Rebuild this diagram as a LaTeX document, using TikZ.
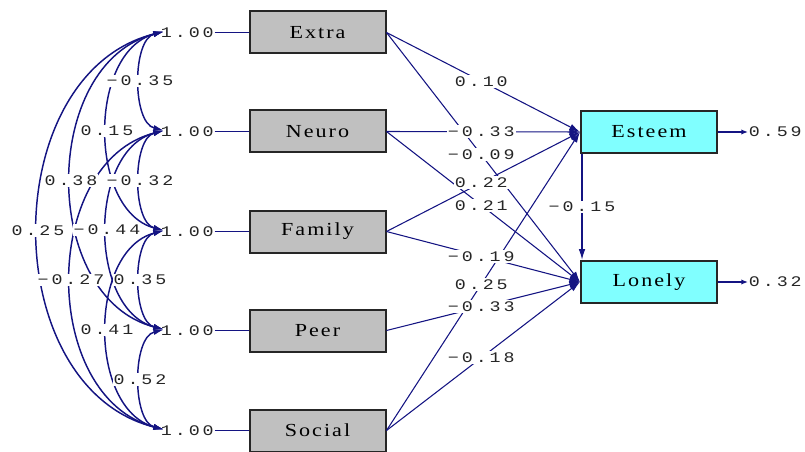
\documentclass[tikz,border=0pt]{standalone}
\usepackage{fontspec}
\usetikzlibrary{arrows.meta,calc}
\newfontfamily\numfont[FakeStretch=1.25,LetterSpace=20]{Liberation Mono}
\newfontfamily\boxfont[FakeStretch=1.2,LetterSpace=11]{Liberation Serif}
\definecolor{lnavy}{RGB}{20,20,130}
\definecolor{boxgray}{RGB}{192,192,192}
\definecolor{boxcyan}{RGB}{128,255,255}
\begin{document}
\begin{tikzpicture}[x=0.75pt,y=-0.75pt,
  obs/.style={draw=black!85, line width=1.5pt, fill=boxgray, minimum width=102pt,
    minimum height=31.5pt, inner sep=0pt, font=\boxfont\fontsize{13.8}{14}\selectfont},
  lat/.style={obs, fill=boxcyan, minimum height=32pt},
  num/.style={font=\numfont\fontsize{11}{12}\selectfont, text=black!85, inner sep=0.5pt},
  plab/.style={num, fill=white, inner sep=1pt},
  clab/.style={num, fill=white, inner sep=0.8pt},
  path/.style={draw=lnavy, line width=0.8pt, -{Latex[length=8pt,width=5pt]}},
  cov/.style={draw=lnavy, line width=1.1pt,
    {Latex[length=8pt,width=4.5pt]}-{Latex[length=8pt,width=4.5pt]}},
  link/.style={draw=lnavy, line width=0.8pt},
  resid/.style={draw=lnavy, line width=1.5pt, -{Latex[length=5pt,width=4pt]}}]
\useasboundingbox (0,0) rectangle (805,452);
% exogenous boxes
\node[obs] (x1) at (317.5,32.5) {Extra};
\node[obs] (x2) at (317.5,131.5) {Neuro};
\node[obs] (x3) at (317.5,231.5) {Family};
\node[obs] (x4) at (317.5,330.5) {Peer};
\node[obs] (x5) at (317.5,430.5) {Social};
% endogenous boxes
\node[lat] (es) at (649,132) {Esteem};
\node[lat] (lo) at (649,282) {Lonely};
% variances
\foreach \i/\y in {1/32.5,2/131.5,3/231.5,4/330.5,5/430.5}{
  \node[num, anchor=west] (v\i) at (160,\y) {1.00};
  \coordinate (e\i) at (164,\y-1);
  \draw[link] (v\i.east) -- (x\i.west);
}
% covariance arcs
\foreach \i/\j/\a/\b in {1/2/32/8,2/3/32/8,3/4/32/8,4/5/32/8,1/3/76/20,2/4/76/20,3/5/76/20,1/4/124/32,2/5/124/32,1/5/168/42}{
  \draw[cov] (e\i) .. controls +(-\a,\b) and +(-\a,-\b) .. (e\j);
}
\foreach \i/\j/\a/\b/\t in {1/2/32/8/−0.35,2/3/32/8/−0.32,3/4/32/8/0.35,4/5/32/8/0.52,1/3/76/20/0.15,2/4/76/20/−0.44,3/5/76/20/0.41,1/4/124/32/0.38,2/5/124/32/−0.27,1/5/168/42/0.25}{
  \path (e\i) .. controls +(-\a,\b) and +(-\a,-\b) .. (e\j) node[clab,pos=0.5]{\t};
}
% structural paths
\foreach \s/\d in {x1/es,x1/lo,x2/es,x2/lo,x3/es,x3/lo,x4/lo,x5/es,x5/lo}{
  \draw[path] (\s.east) -- (\d.west);
}
\foreach \s/\d/\t in {x1/es/0.10,x1/lo/−0.09,x2/es/−0.33,x2/lo/0.21,x3/es/0.22,x3/lo/−0.19,x4/lo/−0.33,x5/es/0.25,x5/lo/−0.18}{
  \path (\s.east) -- (\d.west) node[plab,pos=0.49]{\t};
}
% esteem -> lonely
\draw[path] ([xshift=1.5pt]es.south west) -- ([xshift=1.5pt]lo.north west)
  node[plab,pos=0.5]{−0.15};
% residuals
\node[num, anchor=west] (r1) at (748,132) {0.59};
\node[num, anchor=west] (r2) at (748,282) {0.32};
\draw[resid] (es.east) -- (r1.west);
\draw[resid] (lo.east) -- (r2.west);
\end{tikzpicture}
\end{document}
